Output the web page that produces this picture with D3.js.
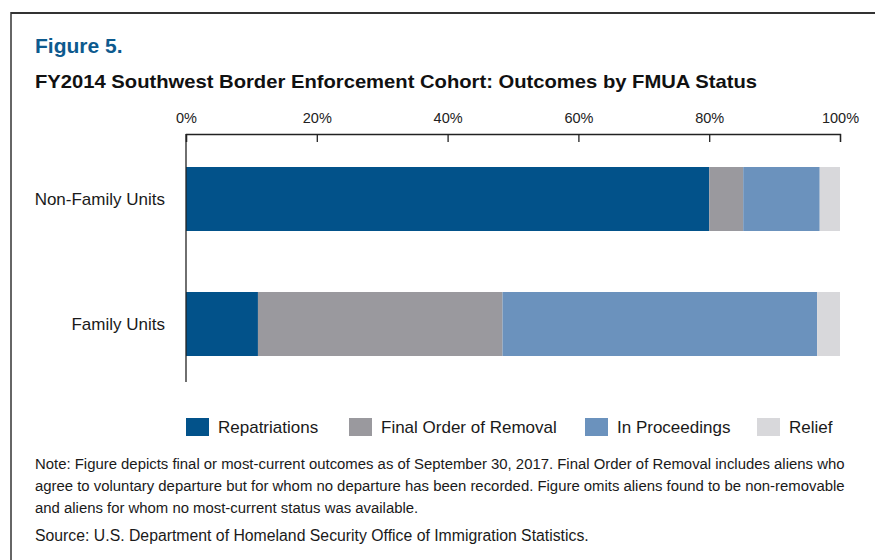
<!DOCTYPE html>
<html>

<head>
    <meta charset="utf-8">
    <script src="https://cdn.jsdelivr.net/npm/d3@7"></script>
    <style>
        body { margin: 0; background: #fff; }
        text { font-family: "Liberation Sans", Arial, sans-serif; fill: #1a1a1a; }
    </style>
</head>

<body>
    <script>
    // data (percent of cohort)
    const categories = ["Non-Family Units", "Family Units"];
    const outcomes = ["Repatriations", "Final Order of Removal", "In Proceedings", "Relief"];
    const repatriations = [80.0, 11.0];
    const finalOrder = [5.2, 37.4];
    const inProceedings = [11.7, 48.1];
    const relief = [3.1, 3.5];
    const tickValues = [0, 20, 40, 60, 80, 100];
    const colors = ["#02528a", "#9a999e", "#6b92bd", "#d8d8db"];

    const noteLines = [
        "Note: Figure depicts final or most-current outcomes as of September 30, 2017. Final Order of Removal includes aliens who",
        "agree to voluntary departure but for whom no departure has been recorded. Figure omits aliens found to be non-removable",
        "and aliens for whom no most-current status was available."
    ];
    const sourceLine = "Source: U.S. Department of Homeland Security Office of Immigration Statistics.";

    function draw() {
        let width = 875,
            height = 560;

        let svg = d3.select("body")
            .append("svg")
            .attr("width", width)
            .attr("height", height);

        // frame: top and left rule only
        svg.append("line")
            .attr("x1", 11).attr("x2", width)
            .attr("y1", 13).attr("y2", 13)
            .attr("stroke", "#333").attr("stroke-width", 2);
        svg.append("line")
            .attr("x1", 11).attr("x2", 11)
            .attr("y1", 12).attr("y2", height)
            .attr("stroke", "#333").attr("stroke-width", 1.5);

        svg.append("text")
            .attr("x", 35).attr("y", 53)
            .attr("font-size", "21px").attr("font-weight", "bold")
            .style("fill", "#0d5a8e")
            .text("Figure 5.");

        svg.append("text")
            .attr("x", 35).attr("y", 88)
            .attr("font-size", "19px").attr("font-weight", "bold")
            .attr("textLength", 722)
            .attr("lengthAdjust", "spacingAndGlyphs")
            .style("fill", "#111")
            .text("FY2014 Southwest Border Enforcement Cohort: Outcomes by FMUA Status");

        let x = d3.scaleLinear()
            .domain([0, 100])
            .range([186, 840]);

        let y = d3.scaleBand()
            .domain(categories)
            .range([134, 389])
            .paddingInner(0.488)
            .paddingOuter(0.264);

        // top axis
        let xAxis = d3.axisTop(x)
            .tickValues(tickValues)
            .tickFormat(d => d + "%")
            .tickSize(-8)
            .tickPadding(11);

        let gx = svg.append("g")
            .attr("transform", "translate(0,134)")
            .call(xAxis);
        gx.select(".domain").attr("stroke", "#222").attr("stroke-width", 1.3);
        gx.selectAll(".tick line").attr("stroke", "#222").attr("stroke-width", 1.3);
        gx.selectAll(".tick text")
            .attr("font-size", "14.5px")
            .style("font-family", "'Liberation Sans', Arial, sans-serif")
            .style("fill", "#222");

        // stacked bars
        let rows = categories.map((c, i) => ({
            category: c,
            "Repatriations": repatriations[i],
            "Final Order of Removal": finalOrder[i],
            "In Proceedings": inProceedings[i],
            "Relief": relief[i]
        }));
        let series = d3.stack().keys(outcomes)(rows);
        let color = d3.scaleOrdinal().domain(outcomes).range(colors);

        svg.append("g").selectAll("g")
            .data(series)
            .enter()
            .append("g")
            .attr("fill", d => color(d.key))
            .selectAll("rect")
            .data(d => d)
            .enter()
            .append("rect")
            .attr("x", d => x(d[0]))
            .attr("y", d => y(d.data.category))
            .attr("width", d => x(d[1]) - x(d[0]))
            .attr("height", y.bandwidth());

        // left axis line and category labels
        svg.append("line")
            .attr("x1", x(0)).attr("x2", x(0))
            .attr("y1", 134).attr("y2", 382)
            .attr("stroke", "#222").attr("stroke-width", 1.3);

        svg.selectAll(".cat")
            .data(categories)
            .enter()
            .append("text")
            .attr("class", "cat")
            .attr("x", 165)
            .attr("y", d => y(d) + y.bandwidth() / 2)
            .attr("dy", "0.35em")
            .attr("text-anchor", "end")
            .attr("font-size", "17px")
            .text(d => d);

        // legend
        let legendX = [186, 349, 585, 757];
        let lg = svg.selectAll(".legend")
            .data(outcomes)
            .enter()
            .append("g")
            .attr("class", "legend")
            .attr("transform", (d, i) => "translate(" + legendX[i] + ",418)");
        lg.append("rect")
            .attr("width", 23).attr("height", 18)
            .attr("fill", d => color(d));
        lg.append("text")
            .attr("x", 32).attr("y", 9)
            .attr("dy", "0.35em")
            .attr("font-size", "17px")
            .text(d => d);

        // notes
        svg.selectAll(".note")
            .data(noteLines)
            .enter()
            .append("text")
            .attr("class", "note")
            .attr("x", 35)
            .attr("y", (d, i) => 469 + i * 22)
            .attr("font-size", "14.9px")
            .text(d => d);

        svg.append("text")
            .attr("x", 35).attr("y", 541)
            .attr("font-size", "15.8px")
            .text(sourceLine);
    }

    draw();
    </script>
</body>
</html>
